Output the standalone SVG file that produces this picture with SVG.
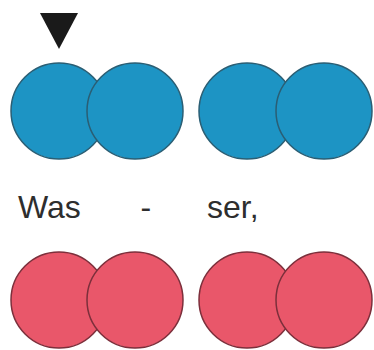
<svg xmlns="http://www.w3.org/2000/svg" width="374" height="350" viewBox="0 0 374 350">
<style>
.blue{fill:#1d94c4;stroke:#2a5e74;stroke-width:1.5}
.red{fill:#e9576a;stroke:#7c2f3b;stroke-width:1.5}
.syl{font-family:"Liberation Sans",Arial,sans-serif;font-size:32px;fill:#2e2e2e}
</style>
<rect width="374" height="350" fill="#ffffff"/>
<g id="marker-triangle"><polygon points="40,13 78,13 59,49" fill="#1a1a1a"/></g>
<g id="blue-row">
<circle id="blue1" class="blue" cx="59" cy="111" r="48"/>
<circle id="blue2" class="blue" cx="135" cy="111" r="48"/>
<circle id="blue3" class="blue" cx="247" cy="111" r="48"/>
<circle id="blue4" class="blue" cx="324" cy="111" r="48"/>
</g>
<g id="text-row">
<text class="syl" x="18" y="218">Was</text>
<text class="syl" x="140.5" y="218">-</text>
<text class="syl" x="207" y="218">ser,</text>
</g>
<g id="red-row">
<circle id="red1" class="red" cx="59" cy="300" r="48"/>
<circle id="red2" class="red" cx="135" cy="300" r="48"/>
<circle id="red3" class="red" cx="247" cy="300" r="48"/>
<circle id="red4" class="red" cx="324" cy="300" r="48"/>
</g>
</svg>
